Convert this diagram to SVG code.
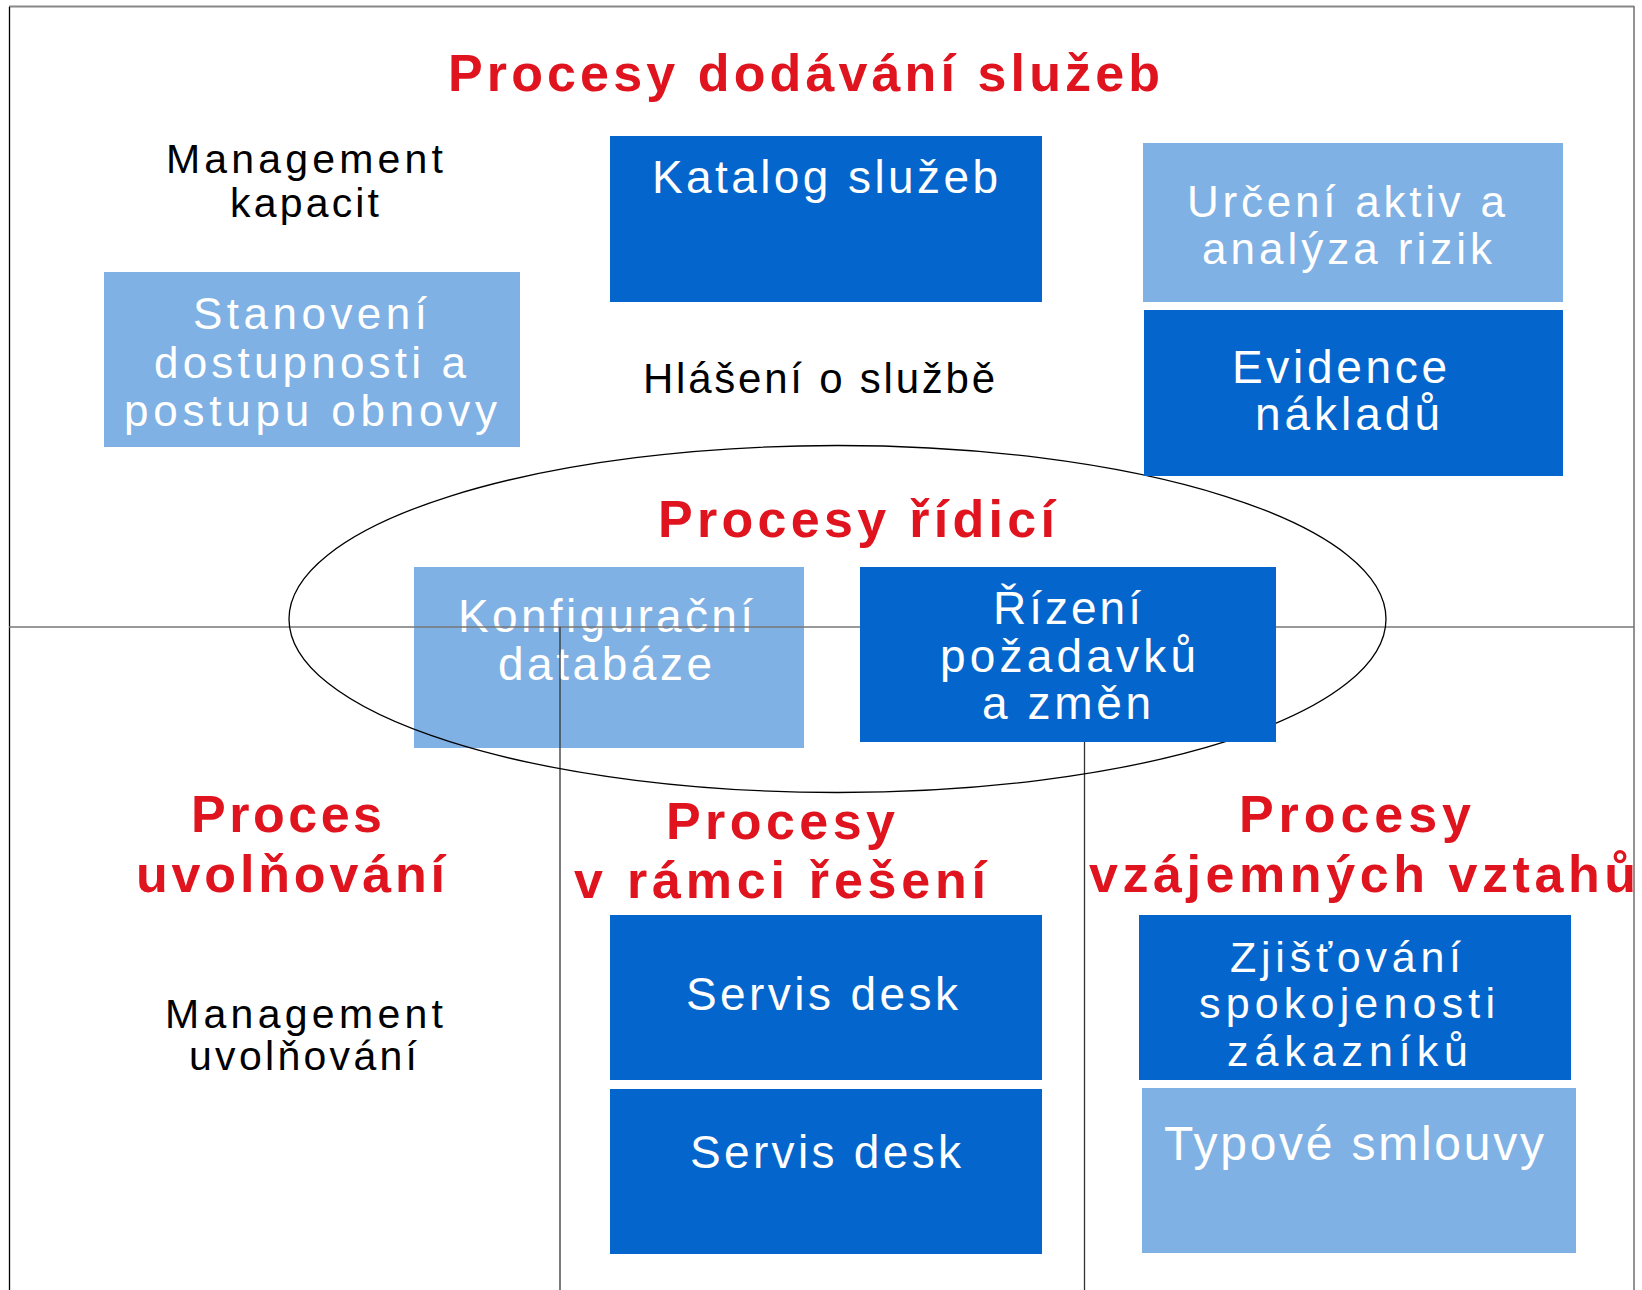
<svg xmlns="http://www.w3.org/2000/svg" width="1642" height="1290" viewBox="0 0 1642 1290">
<style>
.dark{fill:#0466CC}
.light{fill:#80B1E4}
.wt{fill:#ffffff;font-family:"Liberation Sans",Arial,sans-serif}
.bt{fill:#000000;font-family:"Liberation Sans",Arial,sans-serif}
.rt{fill:#E0141E;font-family:"Liberation Sans",Arial,sans-serif;font-weight:bold}
.ln{fill:none;stroke-width:1.3}
</style>
<rect x="0" y="0" width="1642" height="1290" fill="#ffffff"/>

<g id="frame">
<line x1="9" y1="6.5" x2="1634" y2="6.5" stroke="#888" stroke-width="2"/>
<line x1="9.5" y1="7" x2="9.5" y2="1290" stroke="#000" stroke-width="1.3"/>
<line x1="1634" y1="6" x2="1634" y2="1290" stroke="#777" stroke-width="1.6"/>
</g>

<g id="light-nodes">
<g id="node-stanoveni">
<rect class="light" x="104" y="272" width="416" height="175"/>
<text class="wt" font-size="44" x="193" y="329" textLength="234" lengthAdjust="spacing">Stanovení</text>
<text class="wt" font-size="44" x="154" y="378" textLength="312" lengthAdjust="spacing">dostupnosti a</text>
<text class="wt" font-size="44" x="124" y="426" textLength="373" lengthAdjust="spacing">postupu obnovy</text>
</g>
<g id="node-urceni">
<rect class="light" x="1143" y="143" width="420" height="159"/>
<text class="wt" font-size="44" x="1187" y="217" textLength="318" lengthAdjust="spacing">Určení aktiv a</text>
<text class="wt" font-size="44" x="1202" y="264" textLength="290" lengthAdjust="spacing">analýza rizik</text>
</g>
<g id="node-konfiguracni">
<rect class="light" x="414" y="567" width="390" height="181"/>
<text class="wt" font-size="46" x="458" y="632" textLength="295" lengthAdjust="spacing">Konfigurační</text>
<text class="wt" font-size="46" x="498" y="680" textLength="214" lengthAdjust="spacing">databáze</text>
</g>
<g id="node-typove">
<rect class="light" x="1142" y="1088" width="434" height="165"/>
<text class="wt" font-size="48" x="1164" y="1160" textLength="380" lengthAdjust="spacing">Typové smlouvy</text>
</g>
</g>

<g id="connectors">
<line class="ln" x1="9" y1="627" x2="1634" y2="627" stroke="#777" stroke-width="1.6"/>
<line class="ln" x1="560" y1="627" x2="560" y2="1290" stroke="#333"/>
<line class="ln" x1="1084.5" y1="627" x2="1084.5" y2="1290" stroke="#333"/>
<ellipse cx="837.5" cy="619" rx="548.5" ry="173.5" fill="none" stroke="#000" stroke-width="1.3"/>
</g>

<g id="dark-nodes">
<g id="node-katalog">
<rect class="dark" x="610" y="136" width="432" height="166"/>
<text class="wt" font-size="46" x="652" y="193" textLength="346" lengthAdjust="spacing">Katalog služeb</text>
</g>
<g id="node-evidence">
<rect class="dark" x="1144" y="310" width="419" height="166"/>
<text class="wt" font-size="46" x="1232" y="383" textLength="215" lengthAdjust="spacing">Evidence</text>
<text class="wt" font-size="46" x="1255" y="430" textLength="185" lengthAdjust="spacing">nákladů</text>
</g>
<g id="node-rizeni">
<rect class="dark" x="860" y="567" width="416" height="175"/>
<text class="wt" font-size="46" x="993" y="624" textLength="148" lengthAdjust="spacing">Řízení</text>
<text class="wt" font-size="46" x="940" y="672" textLength="256" lengthAdjust="spacing">požadavků</text>
<text class="wt" font-size="46" x="982" y="719" textLength="169" lengthAdjust="spacing">a změn</text>
</g>
<g id="node-servis1">
<rect class="dark" x="610" y="915" width="432" height="165"/>
<text class="wt" font-size="46" x="686" y="1010" textLength="272" lengthAdjust="spacing">Servis desk</text>
</g>
<g id="node-servis2">
<rect class="dark" x="610" y="1089" width="432" height="165"/>
<text class="wt" font-size="46" x="690" y="1168" textLength="271" lengthAdjust="spacing">Servis desk</text>
</g>
<g id="node-zjistovani">
<rect class="dark" x="1139" y="915" width="432" height="165"/>
<text class="wt" font-size="43" x="1230" y="972" textLength="231" lengthAdjust="spacing">Zjišťování</text>
<text class="wt" font-size="43" x="1199" y="1018" textLength="296" lengthAdjust="spacing">spokojenosti</text>
<text class="wt" font-size="43" x="1227" y="1066" textLength="241" lengthAdjust="spacing">zákazníků</text>
</g>
</g>

<g id="labels">
<text class="rt" font-size="52" x="448" y="91" textLength="712" lengthAdjust="spacing">Procesy dodávání služeb</text>
<text class="rt" font-size="52" x="658" y="537" textLength="397" lengthAdjust="spacing">Procesy řídicí</text>
<text class="rt" font-size="52" x="191" y="832" textLength="191" lengthAdjust="spacing">Proces</text>
<text class="rt" font-size="52" x="136" y="892" textLength="309" lengthAdjust="spacing">uvolňování</text>
<text class="rt" font-size="52" x="666" y="839" textLength="229" lengthAdjust="spacing">Procesy</text>
<text class="rt" font-size="52" x="574" y="898" textLength="412" lengthAdjust="spacing">v rámci řešení</text>
<text class="rt" font-size="52" x="1239" y="832" textLength="232" lengthAdjust="spacing">Procesy</text>
<text class="rt" font-size="52" x="1089" y="892" textLength="547" lengthAdjust="spacing">vzájemných vztahů</text>
<text class="bt" font-size="41" x="166" y="173" textLength="277" lengthAdjust="spacing">Management</text>
<text class="bt" font-size="41" x="230" y="217" textLength="149" lengthAdjust="spacing">kapacit</text>
<text class="bt" font-size="42" x="643" y="393" textLength="352" lengthAdjust="spacing">Hlášení o službě</text>
<text class="bt" font-size="41" x="165" y="1028" textLength="278" lengthAdjust="spacing">Management</text>
<text class="bt" font-size="41" x="189" y="1070" textLength="228" lengthAdjust="spacing">uvolňování</text>
</g>
</svg>
